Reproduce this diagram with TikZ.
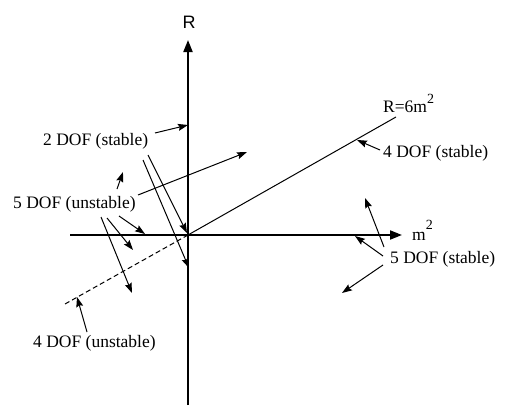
\documentclass[tikz,border=0pt]{standalone}
\usepackage{fontspec}
\setmainfont{Liberation Serif}
\newfontfamily\helv{Liberation Sans}
\usetikzlibrary{arrows.meta}
\begin{document}
\begin{tikzpicture}[x=1pt,y=-1pt,
 axis/.style={line width=2pt,-{Triangle[length=12pt,width=9pt]}},
 ptr/.style={line width=1pt,-{Stealth[length=10pt,width=7pt,inset=1.5pt]}},
 lbl/.style={inner sep=0pt,anchor=base west,font=\fontsize{17.5}{20}\selectfont},
]
\useasboundingbox (0,0) rectangle (512,415);
% axes
\coordinate (O) at (188,235);
\coordinate (vb) at (188,405);
\coordinate (vt) at (188,40);
\coordinate (hl) at (70,235);
\coordinate (hr) at (402,235);
\draw[axis] (vb) -- (vt);
\draw[axis] (hl) -- (hr);
\node[inner sep=0pt,font=\helv\fontsize{18}{20}\selectfont] (Rlab) at (189,22) {R};
\node[lbl] (mlab) at (412,240) {m\raisebox{11pt}{\fontsize{14}{14}\selectfont 2}};
% lines
\coordinate (Rend) at (396,117);
\coordinate (dend) at (65,304);
\draw[line width=1pt] (O) -- (Rend);
\draw[line width=1pt,dash pattern=on 5pt off 3pt] (O) -- (dend);
\node[lbl] (Rsix) at (383,112) {R=6m\raisebox{9pt}{\fontsize{14}{14}\selectfont 2}};
% labels
\node[lbl] (twos) at (43,145) {2 DOF (stable)};
\node[lbl] (fiveu) at (13,208) {5 DOF (unstable)};
\node[lbl] (fouru) at (33,347) {4 DOF (unstable)};
\node[lbl] (fours) at (383,157) {4 DOF (stable)};
\node[lbl] (fives) at (390,263) {5 DOF (stable)};
% arrow end points
\coordinate (a1s) at (155,133); \coordinate (a1t) at (188,125);
\coordinate (a2s) at (143,160); \coordinate (a2t) at (189,268);
\coordinate (a3s) at (148,155); \coordinate (a3t) at (187,233);
\coordinate (b1s) at (117,189); \coordinate (b1t) at (123,172);
\coordinate (b2s) at (138,195); \coordinate (b2t) at (247,152);
\coordinate (b3s) at (119,216); \coordinate (b3t) at (145,234);
\coordinate (b4s) at (107,218); \coordinate (b4t) at (133,250);
\coordinate (b5s) at (101,217); \coordinate (b5t) at (132,293);
\coordinate (c1s) at (87,332); \coordinate (c1t) at (77,297);
\coordinate (d1s) at (380,150); \coordinate (d1t) at (357,140);
\coordinate (e1s) at (384,247); \coordinate (e1t) at (365,198);
\coordinate (e2s) at (383,256); \coordinate (e2t) at (355,236);
\coordinate (e3s) at (383,265); \coordinate (e3t) at (342,293);
\foreach \s/\t in {a1s/a1t,a2s/a2t,a3s/a3t,b1s/b1t,b2s/b2t,b3s/b3t,b4s/b4t,b5s/b5t,c1s/c1t,d1s/d1t,e1s/e1t,e2s/e2t,e3s/e3t}
  \draw[ptr] (\s) -- (\t);
\end{tikzpicture}
\end{document}
